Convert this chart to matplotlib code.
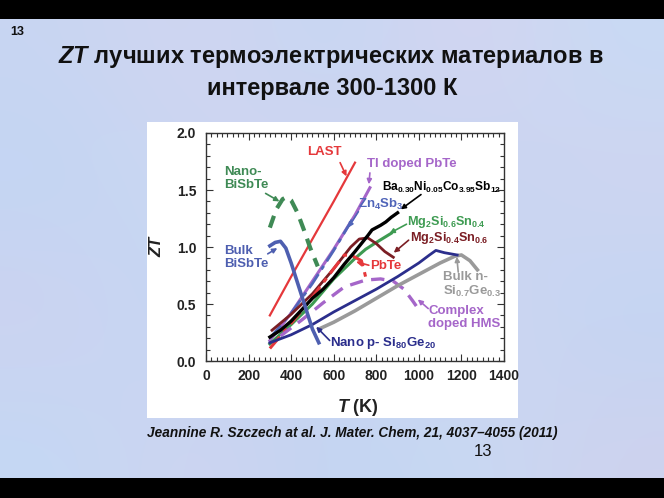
import matplotlib
matplotlib.use('Agg')
import matplotlib.pyplot as plt
import matplotlib.patches as patches
from matplotlib.ticker import MultipleLocator, FormatStrFormatter
import numpy as np

plt.rcParams['font.family'] = ['Liberation Sans', 'DejaVu Sans']
plt.rcParams['mathtext.fontset'] = 'custom'
plt.rcParams['mathtext.rm'] = 'Liberation Sans:bold'
plt.rcParams['mathtext.it'] = 'Liberation Sans:bold:italic'
plt.rcParams['mathtext.bf'] = 'Liberation Sans:bold'
plt.rcParams['mathtext.default'] = 'rm'

# data (T in K, ZT)
last_T = [300, 400, 500, 600, 700]
last_zt = [0.40, 0.74, 1.07, 1.40, 1.74]

tl_T = [300, 400, 500, 600, 700, 770]
tl_zt = [0.18, 0.42, 0.70, 0.98, 1.28, 1.52]

zn_T = [300, 400, 500, 600, 690]
zn_zt = [0.20, 0.42, 0.68, 0.97, 1.25]

ba_T = [300, 350, 400, 450, 500, 550, 600, 650, 700, 730, 760, 780, 800, 820, 845, 870, 900]
ba_zt = [0.21, 0.27, 0.35, 0.45, 0.55, 0.63, 0.73, 0.85, 0.96, 1.03, 1.10, 1.15, 1.17, 1.19, 1.22, 1.26, 1.30]

mg46_T = [300, 400, 500, 600, 700, 750, 800, 870]
mg46_zt = [0.15, 0.32, 0.50, 0.72, 0.90, 0.98, 1.04, 1.12]

mg64_T = [310, 400, 500, 600, 680, 720, 760, 800, 840, 880]
mg64_zt = [0.27, 0.41, 0.59, 0.81, 1.00, 1.07, 1.08, 1.03, 0.96, 0.91]

pbte_T = [300, 400, 500, 600, 650, 690, 730, 742, 752]
pbte_zt = [0.11, 0.33, 0.56, 0.81, 0.93, 0.92, 0.88, 0.80, 0.72]

nbst_T = [300, 330, 360, 380, 400, 430, 460, 490, 525]
nbst_zt = [1.17, 1.33, 1.42, 1.44, 1.41, 1.30, 1.15, 0.99, 0.83]

bbst_T = [300, 325, 350, 375, 400, 450, 500, 530]
bbst_zt = [1.01, 1.04, 1.05, 0.99, 0.86, 0.57, 0.28, 0.16]

psige_T = [300, 400, 500, 600, 700, 800, 900, 1000, 1050, 1080, 1120, 1180]
psige_zt = [0.16, 0.23, 0.32, 0.43, 0.53, 0.63, 0.74, 0.86, 0.93, 0.97, 0.95, 0.93]

nsige_T = [530, 600, 700, 800, 900, 1000, 1100, 1170, 1200, 1240, 1275]
nsige_zt = [0.28, 0.34, 0.44, 0.55, 0.66, 0.76, 0.86, 0.92, 0.93, 0.88, 0.80]

hms_T = [350, 450, 550, 650, 750, 820, 880, 930, 970, 1000]
hms_zt = [0.22, 0.36, 0.51, 0.65, 0.71, 0.72, 0.70, 0.63, 0.53, 0.45]

red = '#e5383b'
purple = '#a566c9'
zblue = '#5065b9'
green = '#3e9b52'
maroon = '#7b1e24'
dgreen = '#3f8a55'
bblue = '#4e5fb0'
navy = '#2b2e8c'
gray = '#9a9a9a'

fig = plt.figure(figsize=(6.64, 4.98), dpi=100)

# slide background
bg_colors = np.array([
    [[200, 214, 242], [210, 212, 240], [196, 216, 244], [214, 212, 240], [200, 218, 244]],
    [[194, 214, 244], [204, 216, 242], [212, 210, 238], [196, 214, 244], [208, 212, 240]],
    [[206, 210, 240], [194, 216, 246], [200, 214, 242], [210, 212, 240], [194, 214, 244]],
    [[196, 216, 244], [208, 212, 240], [194, 212, 242], [200, 218, 244], [206, 210, 238]],
]) / 255.0
bg = fig.add_axes([0, 0, 1, 1], zorder=-3)
bg.imshow(bg_colors, extent=[0, 1, 0, 1], aspect='auto', interpolation='bicubic')
bg.set_xlim(0, 1)
bg.set_ylim(0, 1)
bg.axis('off')

fig.add_artist(patches.Rectangle((0, 1 - 19 / 498), 1, 19 / 498, transform=fig.transFigure,
                                 facecolor='black', edgecolor='none', zorder=-1))
fig.add_artist(patches.Rectangle((0, 0), 1, 20 / 498, transform=fig.transFigure,
                                 facecolor='black', edgecolor='none', zorder=-1))
fig.add_artist(patches.Rectangle((147 / 664, 80 / 498), 371 / 664, 296 / 498, transform=fig.transFigure,
                                 facecolor='white', edgecolor='none', zorder=-1))

ax = fig.add_axes([206 / 664, 137 / 498, 298 / 664, 228 / 498])

ax.plot(last_T, last_zt, color=red, lw=1.6)
ax.plot(tl_T, tl_zt, color=purple, lw=2.2)
ax.plot(zn_T, zn_zt, color=zblue, lw=2.0, dashes=(6, 2, 1.5, 2))
ax.plot(mg46_T, mg46_zt, color=green, lw=2.2)
ax.plot(mg64_T, mg64_zt, color=maroon, lw=2.0)
ax.plot(pbte_T, pbte_zt, color=red, lw=2.2, dashes=(5, 2, 1.5, 2))
ax.plot(hms_T, hms_zt, color=purple, lw=2.4, dashes=(4, 2.5))
ax.plot(nsige_T, nsige_zt, color=gray, lw=2.6)
ax.plot(psige_T, psige_zt, color=navy, lw=2.0)
ax.plot(ba_T, ba_zt, color='black', lw=2.4)
ax.plot(nbst_T, nbst_zt, color=dgreen, lw=3.0, dashes=(3, 2))
ax.plot(bbst_T, bbst_zt, color=bblue, lw=2.6)

ax.set_xlim(0, 1400)
ax.set_ylim(0, 2.0)
ax.xaxis.set_major_locator(MultipleLocator(200))
ax.xaxis.set_minor_locator(MultipleLocator(25))
ax.yaxis.set_major_locator(MultipleLocator(0.5))
ax.yaxis.set_minor_locator(MultipleLocator(0.1))
ax.yaxis.set_major_formatter(FormatStrFormatter('%.1f'))
ax.tick_params(which='both', direction='in', top=True, right=True, width=0.8, color='#333333')
ax.tick_params(which='major', length=5)
ax.tick_params(which='minor', length=3)
ax.tick_params(axis='x', pad=6)
ax.tick_params(axis='y', pad=7)
for lab in ax.get_xticklabels() + ax.get_yticklabels():
    lab.set_fontsize(10)
    lab.set_fontweight('bold')
    lab.set_color('#222222')
for sp in ax.spines.values():
    sp.set_linewidth(1.0)
    sp.set_color('#333333')

ax.set_ylabel('ZT', fontsize=12, fontweight='bold', fontstyle='italic', color='#222222')
ax.yaxis.set_label_coords(-0.141, 0.5)
ax.set_xlabel(r'$\mathit{T}$ (K)', fontsize=13, fontweight='bold', color='#222222')
ax.xaxis.set_label_coords(0.51, -0.16)


def note(text, xy, color, ha='left', tip=None, tail=None, size=9.5):
    ax.text(xy[0], xy[1], text, color=color, fontsize=size, fontweight='bold',
            ha=ha, va='center', linespacing=1.1)
    if tip is not None:
        ax.annotate('', xy=tip, xytext=tail,
                    arrowprops=dict(arrowstyle='-|>', color=color, lw=1.2,
                                    mutation_scale=7, shrinkA=0, shrinkB=0))


note('LAST', (555, 1.83), red, ha='center', tip=(660, 1.62), tail=(630, 1.74))
note('Nano-\nBiSbTe', (85, 1.60), dgreen, tip=(345, 1.40), tail=(280, 1.47))
note('Bulk\nBiSbTe', (85, 0.91), bblue, tip=(335, 0.99), tail=(290, 0.94))
note('Tl doped PbTe', (755, 1.73), purple, tip=(765, 1.55), tail=(770, 1.65))
note(r'Ba$_{0.30}$Ni$_{0.05}$Co$_{3.95}$Sb$_{12}$', (825, 1.52), 'black',
     tip=(915, 1.33), tail=(1010, 1.46), size=8.6)
note(r'Zn$_4$Sb$_3$', (716, 1.37), zblue, tip=(668, 1.17), tail=(716, 1.31))
note(r'Mg$_2$Si$_{0.6}$Sn$_{0.4}$', (945, 1.215), green, tip=(862, 1.12), tail=(942, 1.20), size=9.1)
note(r'Mg$_2$Si$_{0.4}$Sn$_{0.6}$', (960, 1.08), maroon, tip=(882, 0.95), tail=(952, 1.06), size=9.1)
note('PbTe', (770, 0.83), red, tip=(705, 0.87), tail=(765, 0.84))
note('Bulk n-\n' + r'Si$_{0.7}$Ge$_{0.3}$', (1115, 0.67), gray, tip=(1178, 0.915), tail=(1185, 0.78))
note('Complex\ndoped HMS', (1044, 0.38), purple, tip=(995, 0.54), tail=(1044, 0.46))
note(r'Nano p- Si$_{80}$Ge$_{20}$', (581, 0.16), navy, tip=(518, 0.30), tail=(581, 0.18))

# slide texts
fig.text(331 / 664, 1 - 57 / 498, r'$\mathit{ZT}$ лучших термоэлектрических материалов в',
         ha='center', va='center', fontsize=17, fontweight='bold', color='#111111')
fig.text(332 / 664, 1 - 89 / 498, 'интервале 300-1300 К',
         ha='center', va='center', fontsize=17, fontweight='bold', color='#111111')
fig.text(10 / 664, 1 - 32 / 498, '13', ha='left', va='center', fontsize=9,
         fontweight='bold', color='#111111')
fig.text(147 / 664, 1 - 433 / 498,
         'Jeannine R. Szczech at al. J. Mater. Chem, 21, 4037\u20134055 (2011)',
         ha='left', va='center', fontsize=9.8, fontweight='bold', fontstyle='italic', color='#111111')
fig.text(483 / 664, 1 - 451 / 498, '13', ha='center', va='center', fontsize=12, color='#111111')

fig.savefig('out.png', dpi=100)
